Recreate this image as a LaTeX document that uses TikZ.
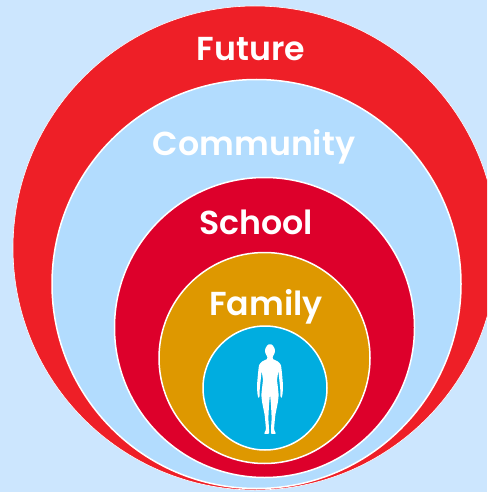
\documentclass[tikz,border=0pt]{standalone}
\usepackage{fontspec}
\setmainfont{Poppins}
\newfontfamily\labelfont{Poppins SemiBold}
\definecolor{bgblue}{HTML}{CCE6FE}
\definecolor{futurered}{HTML}{EE1F27}
\definecolor{commblue}{HTML}{B2DCFE}
\definecolor{schoolred}{HTML}{DD002B}
\definecolor{familygold}{HTML}{DE9800}
\definecolor{coreblue}{HTML}{00ADE0}
\tikzset{
  ring/.style={circle,draw=white,line width=1.5pt,inner sep=0pt,minimum size=#1},
  ringlabel/.style={text=white,font=\labelfont\fontsize{33.2}{38}\selectfont,inner sep=0pt,anchor=base},
}
\begin{document}
\begin{tikzpicture}[x=1pt,y=-1pt]
\fill[bgblue] (0,0) rectangle (487,492);
\useasboundingbox (0,0) rectangle (487,492);
\begin{scope}
\clip (0,0) rectangle (487,492);
\node[ring=484pt,fill=futurered,line width=.6pt] (future) at (255,248) {};
\node[ring=409pt,fill=commblue] (community) at (256.5,284) {};
\node[ring=300pt,fill=schoolred] (school) at (264.5,327.5) {};
\node[ring=211pt,fill=familygold] (family) at (264.5,358) {};
\node[ring=124pt,fill=coreblue] (core) at (265,388) {};
\end{scope}
\node[ringlabel] (lfuture) at (251,61) {Future};
\node[ringlabel] (lcommunity) at (254,155) {Community};
\node[ringlabel] (lschool) at (256,234) {School};
\node[ringlabel] (lfamily) at (266,315) {Family};
\begin{scope}[shift={(270,330)},x=0.3333pt,y=-0.3333pt]
\fill[white,rounded corners=0.9pt]
 (0,42) -- (8,45) -- (15,58) -- (14,70) -- (8,80) -- (8,87) -- (25,95) -- (33,105) -- (36,130) -- (39,165) -- (38,190) -- (35,205) -- (31,200) -- (31,180) -- (28,150) -- (25,122) -- (21,150) -- (24,175) -- (26,195) -- (24,215) -- (16,255) -- (14,275) -- (12,298) -- (18,312) -- (3,312) -- (3,295) -- (5,265) -- (3,225) -- (0,192)
 -- (-3,225) -- (-5,265) -- (-3,295) -- (-3,312) -- (-18,312) -- (-12,298) -- (-14,275) -- (-16,255) -- (-24,215) -- (-26,195) -- (-24,175) -- (-21,150) -- (-25,122) -- (-28,150) -- (-31,180) -- (-31,200) -- (-35,205) -- (-38,190) -- (-39,165) -- (-36,130) -- (-33,105) -- (-25,95) -- (-8,87) -- (-8,80) -- (-14,70) -- (-15,58) -- (-8,45) -- cycle;
\end{scope}
\end{tikzpicture}
\end{document}
